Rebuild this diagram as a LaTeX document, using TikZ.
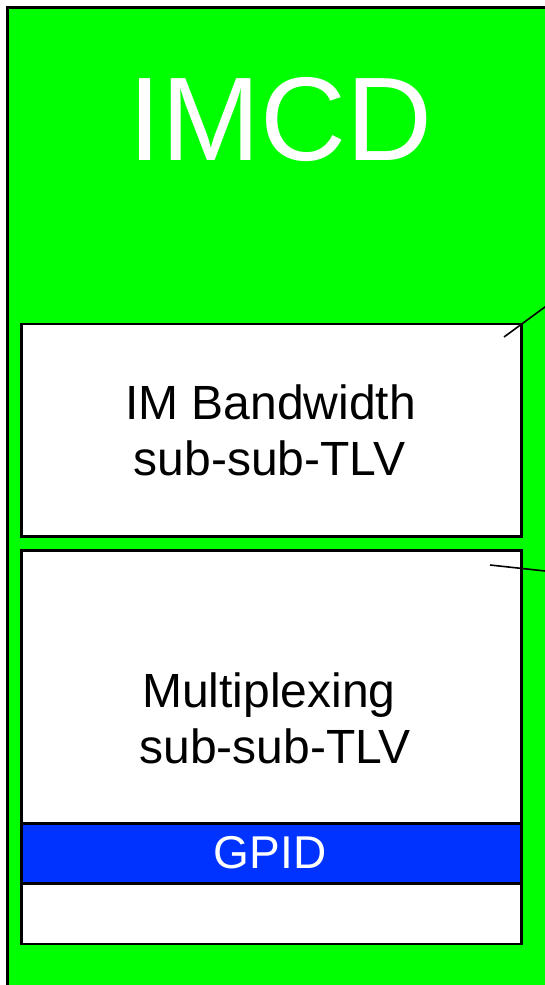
\documentclass[tikz,border=0pt]{standalone}
\usepackage{fontspec}
\setmainfont{Liberation Sans}
\definecolor{imgreen}{RGB}{0,255,0}
\definecolor{gpblue}{RGB}{0,51,255}
\begin{document}
\begin{tikzpicture}[x=1pt,y=-1pt,
  field/.style={draw=black, line width=2.5pt, fill=white, inner sep=0pt, anchor=north west},
  lbl/.style={font=\fontsize{48}{56}\selectfont, text=black, anchor=base, inner sep=0pt},
  leader/.style={draw=black, line width=1.6pt}]
\useasboundingbox (0,0) rectangle (545,985);
\clip (0,0) rectangle (545,985);
\node[draw=black, line width=2.5pt, fill=imgreen, minimum width=600pt, minimum height=1050pt, anchor=north west, inner sep=0pt] (imcd) at (6,6) {};
\node[font=\fontsize{119}{130}\selectfont, text=white, anchor=base, inner sep=0pt] (title) at (280.5,160) {IMCD};
% IM Bandwidth box
\node[field, minimum width=500pt, minimum height=212.5pt] (imbw) at (20,322.5) {};
\node[lbl] (imbwA) at (270.5,419) {IM Bandwidth};
\node[lbl] (imbwB) at (269.5,475) {sub-sub-TLV};
% Multiplexing box
\node[field, minimum width=500pt, minimum height=393.5pt] (mux) at (20,549) {};
\node[lbl] (muxA) at (269,707) {Multiplexing};
\node[lbl] (muxB) at (275,763) {sub-sub-TLV};
\node[field, fill=gpblue, minimum width=500pt, minimum height=60pt] (gpid) at (20,822) {};
\node[lbl, text=white, font=\fontsize{46}{56}\selectfont] (gpidT) at (270,868) {GPID};
% leaders
\coordinate (l1a) at (504,337);
\coordinate (l1b) at (560,296);
\coordinate (l2a) at (490,565);
\coordinate (l2b) at (560,572.6);
\draw[leader] (l1a) -- (l1b);
\draw[leader] (l2a) -- (l2b);
\end{tikzpicture}
\end{document}
